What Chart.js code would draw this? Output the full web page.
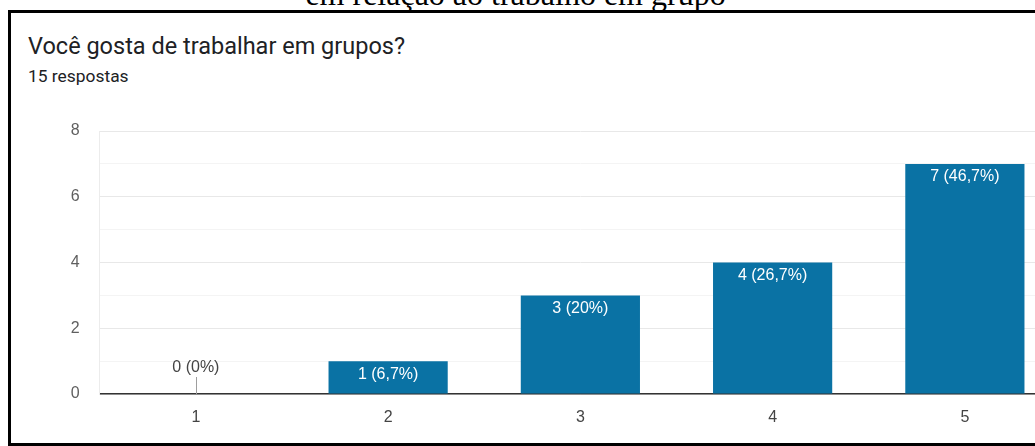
<!DOCTYPE html>
<html>
<head>
<meta charset="utf-8">
<script src="https://cdn.jsdelivr.net/npm/chart.js@4"></script>
<style>
  html, body { margin: 0; padding: 0; background: #fff; overflow: hidden; width: 1035px; height: 446px; }
  #caption { position: absolute; top: -22px; left: 0; width: 1031px; text-align: center;
    font-family: "Liberation Serif", "Times New Roman", serif; font-size: 32px; line-height: 32px; color: #000; white-space: nowrap; }
  #box { position: absolute; left: 8px; top: 10px; width: 1100px; height: 430px; border: 3px solid #000; }
  #title { position: absolute; left: 17px; top: 19px; font-family: Roboto, Arial, sans-serif; font-size: 23.5px; color: #202124; white-space: nowrap; }
  #sub { position: absolute; left: 17px; top: 53px; font-family: Roboto, Arial, sans-serif; font-size: 17.4px; color: #202124; white-space: nowrap; }
  #chart { position: absolute; left: 0; top: 0; }
</style>
</head>
<body>
<div id="caption">em relação ao trabalho em grupo</div>
<div id="box">
  <div id="title">Você gosta de trabalhar em grupos?</div>
  <div id="sub">15 respostas</div>
</div>
<canvas id="chart" width="1100" height="446"></canvas>
<script>
const categories = ['1', '2', '3', '4', '5'];
const counts = [0, 1, 3, 4, 7];
const labels = ['0 (0%)', '1 (6,7%)', '3 (20%)', '4 (26,7%)', '7 (46,7%)'];
const yTicks = [0, 2, 4, 6, 8];

const barLabels = {
    id: 'barLabels',
    afterDatasetsDraw: function (chart) {
        const ctx = chart.ctx;
        const meta = chart.getDatasetMeta(0);
        ctx.save();
        ctx.font = '16px "Liberation Sans", Arial, sans-serif';
        ctx.textAlign = 'center';
        ctx.textBaseline = 'middle';
        meta.data.forEach(function (bar, i) {
            if (counts[i] === 0) {
                const base = chart.scales.y.getPixelForValue(0);
                ctx.strokeStyle = '#9e9e9e';
                ctx.lineWidth = 1;
                ctx.beginPath();
                ctx.moveTo(Math.round(bar.x) + 0.5, base - 17);
                ctx.lineTo(Math.round(bar.x) + 0.5, base);
                ctx.stroke();
                ctx.fillStyle = '#444';
                ctx.fillText(labels[i], bar.x, base - 26);
            } else {
                ctx.fillStyle = '#fff';
                ctx.fillText(labels[i], bar.x, bar.y + 13);
            }
        });
        ctx.restore();
    }
};

new Chart(document.getElementById('chart').getContext('2d'), {
    type: 'bar',
    data: {
        labels: categories,
        datasets: [{
            data: counts,
            backgroundColor: '#0a72a4',
            barPercentage: 0.62,
            categoryPercentage: 1.0
        }]
    },
    options: {
        responsive: false,
        animation: false,
        layout: { padding: { top: 131, right: 39, left: 0, bottom: 0 } },
        plugins: { legend: { display: false }, tooltip: { enabled: false } },
        scales: {
            x: {
                grid: { display: false, drawTicks: false },
                border: { display: true, color: '#333', width: 1.5 },
                ticks: { color: '#444', padding: 14, font: { size: 16, family: '"Liberation Sans", Arial, sans-serif' } },
                afterFit: function (scale) { scale.height = 52; }
            },
            y: {
                min: 0,
                max: 8,
                grid: {
                    drawTicks: false,
                    color: function (c) { return c.tick && c.tick.value % 2 === 0 ? '#e8e8e8' : '#f4f4f4'; }
                },
                border: { display: true, color: '#ececec' },
                ticks: {
                    stepSize: 1,
                    padding: 20,
                    color: '#5f5f5f',
                    font: { size: 16, family: '"Liberation Sans", Arial, sans-serif' },
                    callback: function (v) { return yTicks.indexOf(v) >= 0 ? String(v) : ''; }
                },
                afterFit: function (scale) { scale.width = 99.75; }
            }
        }
    },
    plugins: [barLabels]
});
</script>
</body>
</html>
